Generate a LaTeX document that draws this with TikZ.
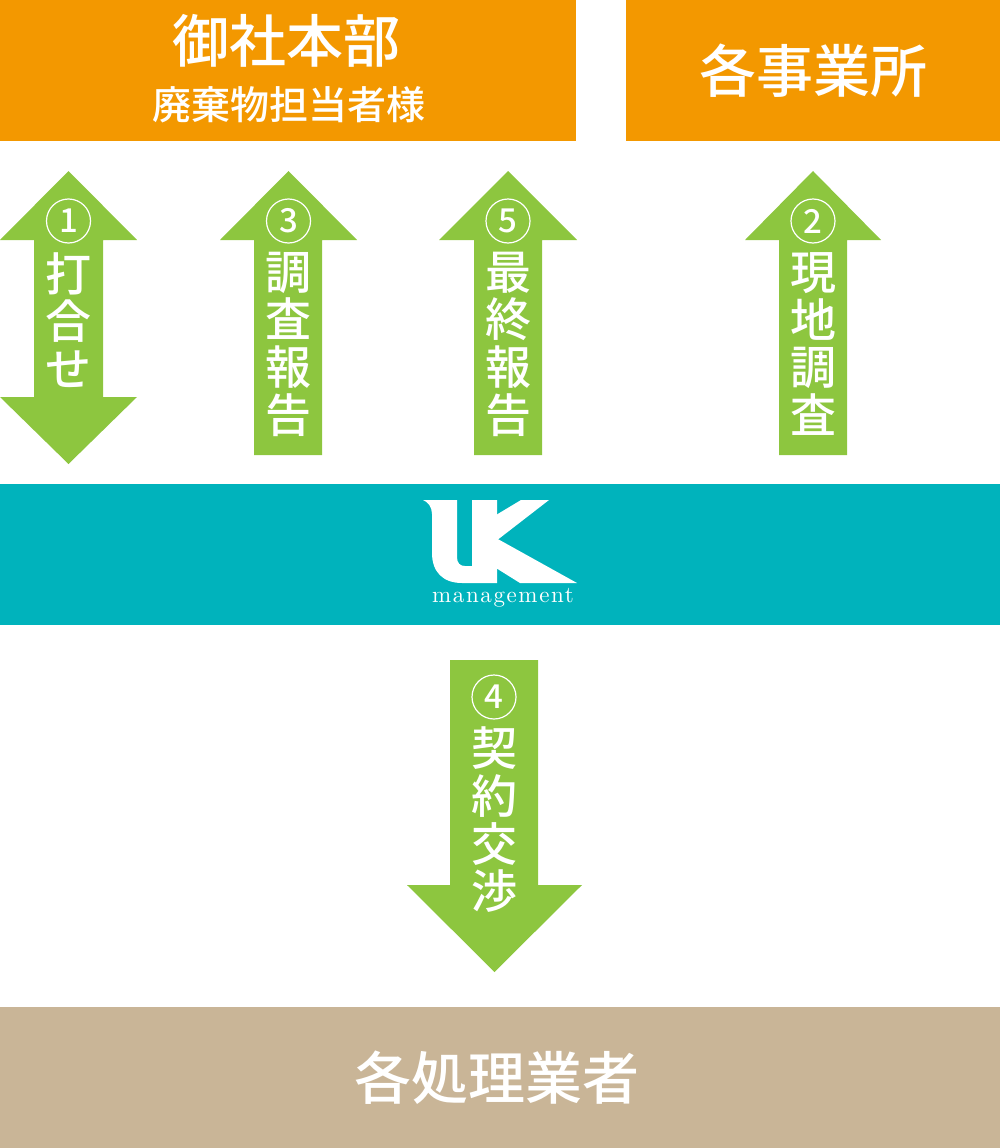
\documentclass[tikz,border=0pt]{standalone}
\usepackage{fontspec}
\newfontfamily\jpfont{Noto Sans CJK JP Medium}
\newfontfamily\logofont{lmroman10-regular.otf}[LetterSpace=7]
\definecolor{ukorange}{HTML}{F39800}
\definecolor{ukgreen}{HTML}{8DC63F}
\definecolor{ukteal}{HTML}{00B3BC}
\definecolor{uktan}{HTML}{C9B597}
\tikzset{
  panel/.style={rectangle, inner sep=0pt, minimum height=141pt},
  title/.style={text=white, inner sep=0pt, font=\jpfont\fontsize{57}{60}\selectfont},
  subtitle/.style={text=white, inner sep=0pt, font=\jpfont\fontsize{39}{42}\selectfont},
  vtext/.style={text=white, inner sep=0pt, align=center, font=\jpfont\fontsize{46}{47.7}\selectfont},
  numcirc/.style={circle, draw=white, line width=1.2pt, minimum size=44pt, inner sep=0pt, text=white, font=\jpfont\fontsize{33}{33}\selectfont}
}
\begin{document}
\begin{tikzpicture}[x=1pt,y=-1pt]
\useasboundingbox (0,0) rectangle (1000,1148);
\node[panel, fill=ukorange, minimum width=576pt] (honsha) at (288,70.5){};
\node[panel, fill=ukorange, minimum width=374pt] (jigyosho) at (813,70.5){};
\node[panel, fill=ukteal, minimum width=1000pt] (uk) at (500,554.5){};
\node[panel, fill=uktan, minimum width=1000pt] (gyosha) at (500,1077.5){};
\node[title] (honshaA) at (286,41){御社本部};
\node[subtitle] (honshaB) at (289,105){廃棄物担当者様};
\node[title] (jigyoshoA) at (813,71){各事業所};
\node[title] (gyoshaA) at (497,1078){各処理業者};
\fill[ukgreen] (68.5,171) -- (137,240) -- (103,240) -- (103,397) -- (137,397) -- (68.5,464) -- (0,397) -- (34,397) -- (34,240) -- (0,240) -- cycle;
\fill[ukgreen] (288.5,171) -- (357,240) -- (322,240) -- (322,455) -- (254,455) -- (254,240) -- (220,240) -- cycle;
\fill[ukgreen] (508,171) -- (577,240) -- (542,240) -- (542,455) -- (474,455) -- (474,240) -- (439,240) -- cycle;
\fill[ukgreen] (813,171) -- (881,240) -- (847,240) -- (847,455) -- (779,455) -- (779,240) -- (745,240) -- cycle;
\fill[ukgreen] (450,660) -- (538,660) -- (538,885) -- (582,885) -- (494.5,972) -- (407,885) -- (450,885) -- cycle;
\node[numcirc] (n1) at (68.5,221){1};
\node[numcirc] (n3) at (288.5,221){3};
\node[numcirc] (n5) at (508,221){5};
\node[numcirc] (n2) at (813,221){2};
\node[numcirc] (n4) at (494,697){4};
\node[vtext] (t1) at (68.5,320){打\\合\\せ};
\node[vtext] (t3) at (288.5,344){調\\査\\報\\告};
\node[vtext] (t5) at (508,344){最\\終\\報\\告};
\node[vtext] (t2) at (813,344){現\\地\\調\\査};
\node[vtext] (t4) at (494,820){契\\約\\交\\渉};
\fill[white] (423,500) -- (457,500) -- (457,557) .. controls (457,563) and (460,566) .. (465,566) -- (472,566) -- (472,500) -- (497,500) -- (497,583) -- (462,583) .. controls (443,583) and (432,572) .. (432,553) -- (432,514) .. controls (432,507) and (428,502) .. (423,500) -- cycle;
\fill[white] (496,515) -- (521,500) -- (549,500) -- (496,541) -- cycle;
\fill[white] (496,538) -- (577,583) -- (520,583) -- (496,568) -- cycle;
\node[text=white, inner sep=0pt, anchor=base, font=\logofont\fontsize{23}{23}\selectfont] (mgmt) at (503,602){management};
\end{tikzpicture}
\end{document}
